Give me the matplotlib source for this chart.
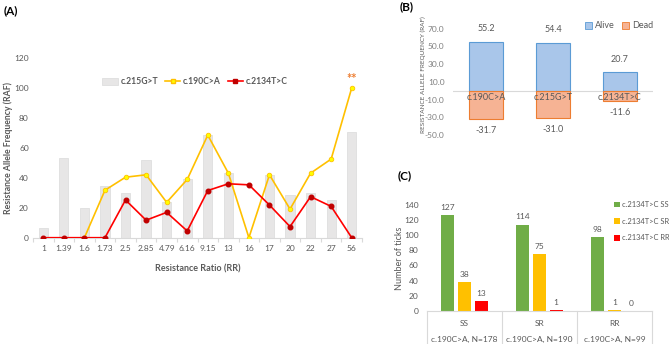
import matplotlib
matplotlib.use("Agg")
import matplotlib.pyplot as plt
from matplotlib.patches import Patch
from matplotlib.lines import Line2D
import matplotlib.transforms as mtrans
import numpy as np

plt.rcParams['font.family'] = ['Lato', 'DejaVu Sans']

# ---- panel A data
rr_labels = ["1", "1.39", "1.6", "1.73", "2.5", "2.85", "4.79", "6.16", "9.15",
             "13", "16", "17", "20", "22", "27", "56"]
raf_215 = [6.3, 53, 20, 34.6, 30, 51.6, 23.6, 38.9, 68.5, 43, 0, 42, 28.8, 30, 25.2, 70.7]
raf_190 = [np.nan, np.nan, 0, 31.7, 40.4, 42, 23.6, 38.9, 68.5, 43.1, 0, 42, 19.1, 43.1, 52.5, 100]
raf_2134 = [0, 0, 0, 0, 25.2, 11.7, 16.9, 4.5, 31.5, 36, 35.3, 21.8, 7.4, 27.4, 20.9, 0]

# ---- panel B data
mut_labels = ["c.190C>A", "c.215G>T", "c.2134T>C"]
alive = [55.2, 54.4, 20.7]
dead = [-31.7, -31.0, -11.6]

# ---- panel C data
geno_labels = ["SS", "SR", "RR"]
group_labels = ["c.190C>A, N=178", "c.190C>A, N=190", "c.190C>A, N=99"]
ticks_ss = [127, 114, 98]
ticks_sr = [38, 75, 1]
ticks_rr = [13, 1, 0]

W, H = 669, 344
GRAY = '#595959'
LINEC = '#D9D9D9'

fig = plt.figure(figsize=(W / 100, H / 100), dpi=100)


def ax_px(l, t, r, b):
    return fig.add_axes([l / W, 1 - b / H, (r - l) / W, (b - t) / H])


def ftxt(x, y, s, **kw):
    fig.text(x / W, 1 - y / H, s, **kw)


# ================= panel A
axA = ax_px(33, 58, 362, 237.7)
x = np.arange(len(rr_labels))
axA.bar(x, raf_215, width=0.45, color='#E7E6E6', edgecolor='#DADADA', lw=0.5, zorder=1)
axA.plot(x, raf_190, color='#FFC000', lw=1.2, marker='o', ms=3.3,
         mfc='#FFFF00', mec='#FFC000', mew=0.6, zorder=3)
axA.plot(x, raf_2134, color='#FF0000', lw=1.2, marker='o', ms=3.3,
         mfc='#C00000', mec='#C00000', zorder=4)
axA.text(15, 102, "**", color='#ED7D31', ha='center', va='bottom', fontsize=9, fontweight='bold')
axA.set_xlim(-0.5, 15.5)
axA.set_ylim(0, 120)
axA.set_yticks(range(0, 121, 20))
axA.set_xticks(x)
axA.set_xticklabels(rr_labels)
axA.set_xticks(np.arange(-0.5, 16, 1), minor=True)
axA.tick_params(axis='both', which='major', length=0, labelsize=6, labelcolor=GRAY, pad=3)
axA.tick_params(axis='x', which='major', pad=5)
axA.tick_params(axis='x', which='minor', length=3, color=LINEC, width=0.8)
for s in ['top', 'right', 'left']:
    axA.spines[s].set_visible(False)
axA.spines['bottom'].set_color(LINEC)
ftxt(8, 148, "Resistance Allele Frequency (RAF)", rotation=90, ha='center', va='center',
     fontsize=6.3, color=GRAY, fontweight='bold')
axA.set_xlabel("Resistance Ratio (RR)", fontsize=6.5, color=GRAY, fontweight='bold', labelpad=9)
handlesA = [Patch(facecolor='#E7E6E6', edgecolor='#DADADA', lw=0.5),
            Line2D([], [], color='#FFC000', lw=1.2, marker='s', ms=2.5, mfc='#FFFF00', mec='#FFC000'),
            Line2D([], [], color='#FF0000', lw=1.2, marker='s', ms=2.5, mfc='#C00000', mec='#C00000')]
fig.legend(handlesA, ["c.215G>T", "c.190C>A", "c.2134T>C"], ncol=3, loc='center',
           bbox_to_anchor=(195 / W, 1 - 82 / H), frameon=False,
           prop={'size': 6.2, 'weight': 'bold'},
           labelcolor=GRAY, handlelength=1.8, handletextpad=0.3, columnspacing=0.8)
ftxt(4, 11, "(A)", fontsize=8.5, fontweight='bold', va='center')

# ================= panel B
axB = ax_px(453, 28.7, 653, 135)
xb = np.arange(3)
axB.bar(xb, alive, width=0.51, color='#A9C6EA', edgecolor='#5B9BD5', lw=0.8, zorder=2)
axB.bar(xb, dead, width=0.51, color='#F6B394', edgecolor='#ED7D31', lw=0.8, zorder=2)
axB.axhline(0, color=LINEC, lw=0.8, zorder=1)
for i in range(3):
    axB.annotate(f"{alive[i]:.1f}", (i, alive[i]), xytext=(0, 6), textcoords='offset points',
                 ha='center', va='bottom', fontsize=6.5, color=GRAY)
    axB.annotate(f"{dead[i]:.1f}", (i, dead[i]), xytext=(0, -5), textcoords='offset points',
                 ha='center', va='top', fontsize=6.5, color=GRAY)
    axB.annotate(mut_labels[i], (i, 0), xytext=(0, -2), textcoords='offset points',
                 ha='center', va='top', fontsize=6.5, color=GRAY, zorder=5)
axB.set_xlim(-0.5, 2.5)
axB.set_ylim(-50, 70)
axB.set_yticks([70, 50, 30, 10, -10, -30, -50])
axB.set_yticklabels([f"{v:.1f}" for v in [70, 50, 30, 10, -10, -30, -50]])
axB.set_xticks([])
axB.tick_params(axis='y', length=0, labelsize=6, labelcolor='#7F7F7F', pad=6)
for s in axB.spines.values():
    s.set_visible(False)
fig.legend([Patch(facecolor='#A9C6EA', edgecolor='#5B9BD5', lw=0.6),
            Patch(facecolor='#F6B394', edgecolor='#ED7D31', lw=0.6)],
           ["Alive", "Dead"], ncol=2, loc='center', bbox_to_anchor=(619 / W, 1 - 26 / H),
           frameon=False, fontsize=6.5, labelcolor=GRAY, handlelength=0.8, handleheight=0.8,
           handletextpad=0.3, columnspacing=0.8)
ftxt(423, 75, "RESISTANCE ALLELE FREQUENCY (RAF)", rotation=90, ha='center', va='center',
     fontsize=4.6, color=GRAY)
ftxt(400, 7, "(B)", fontsize=8.5, fontweight='bold', va='center')

# ================= panel C
axC = ax_px(427, 205, 652, 310.7)
xc = np.arange(3)
off = 0.222
bw = 0.177
for vals, col, dx in [(ticks_ss, '#70AD47', -off), (ticks_sr, '#FFC000', 0), (ticks_rr, '#FF0000', off)]:
    bars = axC.bar(xc + dx, vals, width=bw, color=col, zorder=2)
    for b, v in zip(bars, vals):
        axC.annotate(str(v), (b.get_x() + b.get_width() / 2, v), xytext=(0, 3),
                     textcoords='offset points', ha='center', va='bottom', fontsize=6, color=GRAY)
axC.set_xlim(-0.5, 2.5)
axC.set_ylim(0, 140)
axC.set_yticks(range(0, 141, 20))
axC.set_xticks([])
axC.tick_params(axis='y', length=0, labelsize=6, labelcolor=GRAY, pad=6)
for s in ['top', 'right', 'left']:
    axC.spines[s].set_visible(False)
axC.spines['bottom'].set_color(LINEC)
trC = mtrans.blended_transform_factory(axC.transData, axC.transAxes)
ybot = -(H - 310.7) / 105.7
for xv in [-0.5, 0.5, 1.5, 2.5]:
    axC.add_line(Line2D([xv, xv], [0, ybot], transform=trC, color=LINEC, lw=0.8, clip_on=False))
for i in range(3):
    axC.text(i, -(323 - 310.7) / 105.7, geno_labels[i], transform=trC, ha='center', va='center',
             fontsize=6, color=GRAY)
    axC.text(i, -(339 - 310.7) / 105.7, group_labels[i], transform=trC, ha='center', va='center',
             fontsize=6, color=GRAY)
ftxt(400, 258, "Number of ticks", rotation=90, ha='center', va='center', fontsize=6.5, color=GRAY)
fig.legend([Patch(facecolor=c) for c in ['#70AD47', '#FFC000', '#FF0000']],
           ["c.2134T>C SS", "c.2134T>C SR", "c.2134T>C RR"], loc='upper left',
           bbox_to_anchor=(614 / W, 1 - 201 / H), frameon=False, fontsize=5.4, labelcolor=GRAY,
           handlelength=0.8, handleheight=0.8, handletextpad=0.3, labelspacing=1.3,
           borderaxespad=0, borderpad=0)
ftxt(398, 176, "(C)", fontsize=8.5, fontweight='bold', va='center')

fig.savefig("out.png", dpi=100)
